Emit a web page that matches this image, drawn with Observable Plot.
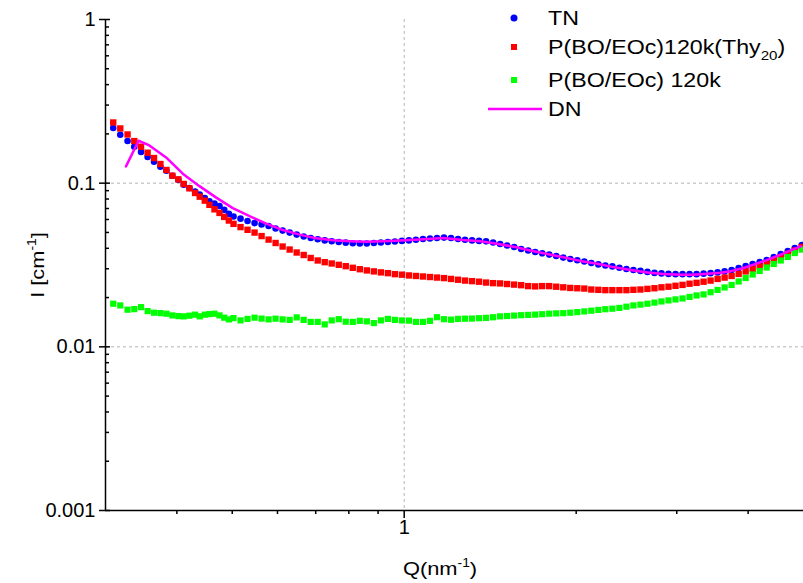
<!DOCTYPE html>
<html><head><meta charset="utf-8">
<script src="https://cdn.jsdelivr.net/npm/d3@7"></script>
<script src="https://cdn.jsdelivr.net/npm/@observablehq/plot@0.6"></script>
<style>
body{margin:0;background:#fff;font-family:"Liberation Sans",Arial,sans-serif;}
#wrap{position:relative;width:803px;height:583px;overflow:hidden;background:#fff;}
.title{position:absolute;font-size:19px;color:#000;white-space:nowrap;line-height:1;}
.title sup{font-size:12px;vertical-align:0;position:relative;top:-8px;}
.leg{position:absolute;left:548px;font-size:20px;line-height:20px;white-space:nowrap;color:#000;transform:scaleX(1.16);transform-origin:0 50%;}
.leg sub{font-size:13px;vertical-align:0;position:relative;top:6px;}
#legsym{position:absolute;left:0;top:0;}
</style></head><body><div id="wrap"></div>
<script>
// Q values (nm^-1) of the measured points
const qData = [0.3095,0.3184,0.3279,0.3369,0.3462,0.3555,0.3648,0.3743,0.3835,0.3928,0.4024,0.4112,0.4207,0.4305,0.4386,0.4476,0.4561,0.4655,0.4750,0.4841,0.4932,0.5026,
0.5170,0.5318,0.5471,0.5628,0.5789,0.5955,0.6126,0.6302,0.6483,0.6669,0.6860,0.7057,0.7259,0.7467,0.7681,0.7901,0.8128,0.8361,0.8601,0.8848,0.9102,0.9363,0.9631,0.9907,1.0191,1.0484,1.0785,1.1094,1.1412,1.1739,1.2076,1.2422,1.2778,1.3145,1.3522,1.3910,1.4309,1.4719,1.5141,1.5576,1.6023,1.6482,1.6955,1.7441,1.7941,1.8456,1.8985,1.9530,2.0090,2.0666,2.1259,2.1869,2.2496,2.3141,2.3805,2.4488,2.5190,2.5913,2.6656,2.7421,2.8207,2.9016,2.9849,3.0705,3.1586,3.2492,3.3424,3.4382,3.5368,3.6383,3.7426,3.8500,3.9604,4.0740,4.1909,4.3111,4.4348,4.5620,4.6929,4.8275,4.9659];
// TN (blue circles)
const tnI = [0.2171,0.1975,0.1808,0.1670,0.1550,0.1445,0.1352,0.1261,0.1192,0.1111,0.1050,0.0979,0.0935,0.0888,0.0851,0.0812,0.0774,0.0750,0.0726,0.0687,0.0649,0.0625,
0.0607,0.0587,0.0570,0.0559,0.0547,0.0529,0.0513,0.0499,0.0485,0.0472,
0.0462,0.0454,0.0447,0.0442,0.0437,0.0433,0.0429,0.0428,0.0428,0.0431,
0.0434,0.0437,0.0440,0.0444,0.0447,0.0451,0.0456,0.0459,0.0462,0.0465,
0.0462,0.0456,0.0451,0.0447,0.0444,0.0441,0.0434,0.0425,0.0416,0.0407,
0.0396,0.0388,0.0380,0.0373,0.0366,0.0359,0.0351,0.0344,0.0338,0.0332,
0.0325,0.0319,0.0314,0.0310,0.0304,0.0299,0.0295,0.0291,0.0287,0.0283,
0.0281,0.0279,0.0278,0.0278,0.0278,0.0278,0.0280,0.0282,0.0285,0.0289,
0.0295,0.0303,0.0312,0.0321,0.0330,0.0339,0.0354,0.0369,0.0385,0.0402,0.0419];
// P(BO/EOc)120k(Thy20) (red squares)
const thyI = [0.2349,0.2159,0.1984,0.1808,0.1670,0.1535,0.1424,0.1309,0.1204,0.1111,0.1055,0.0989,0.0930,0.0871,0.0827,0.0782,0.0737,0.0692,0.0658,0.0622,0.0591,0.0564,
0.0539,0.0519,0.0499,0.0475,0.0452,0.0431,0.0410,0.0393,0.0377,0.0364,
0.0349,0.0337,0.0329,0.0323,0.0317,0.0311,0.0304,0.0298,0.0293,0.0289,
0.0285,0.0282,0.0278,0.0276,0.0273,0.0271,0.0269,0.0267,0.0265,0.0263,
0.0260,0.0257,0.0254,0.0252,0.0250,0.0247,0.0245,0.0244,0.0242,0.0240,
0.0238,0.0235,0.0234,0.0235,0.0235,0.0233,0.0231,0.0229,0.0228,0.0227,
0.0224,0.0223,0.0222,0.0222,0.0222,0.0222,0.0223,0.0224,0.0226,0.0228,
0.0231,0.0233,0.0236,0.0239,0.0243,0.0246,0.0250,0.0254,0.0260,0.0265,
0.0271,0.0279,0.0289,0.0299,0.0310,0.0322,0.0337,0.0353,0.0370,0.0388,0.0407];
// P(BO/EOc) 120k (green squares)
const plainI = [0.01834,0.01791,0.01686,0.01700,0.01748,0.01653,0.01616,0.01607,0.01594,0.01556,0.01541,0.01535,0.01550,0.01572,0.01535,0.01572,0.01585,0.01594,0.01556,0.01507,0.01471,0.01498,
0.01450,0.01481,0.01507,0.01488,0.01471,0.01486,0.01471,0.01461,0.01513,0.01461,
0.01420,0.01420,0.01371,0.01450,0.01475,0.01424,0.01420,0.01441,0.01431,0.01397,
0.01450,0.01481,0.01461,0.01450,0.01446,0.01420,0.01420,0.01441,0.01517,0.01475,
0.01465,0.01481,0.01486,0.01488,0.01496,0.01503,0.01517,0.01535,0.01543,0.01552,
0.01561,0.01567,0.01574,0.01583,0.01594,0.01601,0.01606,0.01616,0.01630,0.01646,
0.01663,0.01681,0.01698,0.01710,0.01729,0.01759,0.01791,0.01811,0.01834,0.01863,
0.01894,0.01921,0.01948,0.01975,0.02018,0.02061,0.02090,0.02156,0.02226,0.02306,
0.02388,0.02508,0.02634,0.02767,0.02907,0.03053,0.03208,0.03369,0.03539,0.03742,0.03930];
// DN (magenta line)
const qDN = [0.3258,0.3428,0.3580,0.3830,0.4096,0.4381,0.4688,0.5012,0.5362,0.5735,0.6134,0.6561,0.7021,0.7506,0.8029,0.8592,0.9187,0.9828,1.0655,1.1691,1.2675,1.3578,1.4543,1.5643,1.6618,1.7797,1.8981,2.0337,2.1779,2.3232,2.4888,2.6662,2.8443,3.0462,3.2103,3.3969,3.5799,3.7275,3.9130,4.0907,4.3111,4.5612,4.7491,4.9453];
const dnI = [0.1266,0.1816,0.1700,0.1437,0.1143,0.0959,0.0816,0.0704,0.0629,0.0566,0.0517,0.0485,0.0460,0.0448,0.0442,0.0438,0.0442,0.0446,0.0452,0.0462,0.0449,0.0441,0.0426,0.0407,0.0388,0.0369,0.0353,0.0335,0.0322,0.0307,0.0295,0.0285,0.0279,0.0276,0.0276,0.0280,0.0284,0.0290,0.0302,0.0318,0.0339,0.0366,0.0388,0.0411];
// ticks
const xDomain = [0.3, 5];
const yDomain = [0.001, 1];
const xMajorTicks = [1];
const xMinorTicks = [0.4,0.5,0.6,0.7,0.8,0.9,2,3,4];
const yMajorTicks = [0.001,0.01,0.1,1];
const yMinorTicks = [0.002,0.003,0.004,0.005,0.006,0.007,0.008,0.009,0.02,0.03,0.04,0.05,0.06,0.07,0.08,0.09,0.2,0.3,0.4,0.5,0.6,0.7,0.8,0.9];
const gridX = [1];
const gridY = [0.01, 0.1];
const seriesNames = ["TN", "P(BO/EOc)120k(Thy<sub>20</sub>)", "P(BO/EOc) 120k", "DN"];
const colors = ["#0000ff", "#ff0000", "#00ff00", "#ff00ff"];

const rows = qData.map((q, i) => ({q, tn: tnI[i], thy: thyI[i], plain: plainI[i]}));
const dnRows = qDN.map((q, i) => ({q, I: dnI[i]}));

const chart = Plot.plot({
  width: 803, height: 583,
  marginLeft: 105, marginRight: 0, marginTop: 19, marginBottom: 73,
  x: {type: "log", domain: xDomain},
  y: {type: "log", domain: yDomain},
  style: {fontFamily: "'Liberation Sans', Arial, sans-serif", fontSize: "20px", color: "#000", background: "#fff", overflow: "visible"},
  marks: [
    Plot.ruleX(gridX, {stroke: "#b4b4b4", strokeDasharray: "3,3"}),
    Plot.ruleY(gridY, {stroke: "#b4b4b4", strokeDasharray: "3,3"}),
    Plot.dot(rows, {x: "q", y: "tn", r: 3.3, fill: colors[0], stroke: null}),
    Plot.dot(rows, {x: "q", y: "thy", r: 3.6, symbol: "square", fill: colors[1], stroke: null}),
    Plot.dot(rows, {x: "q", y: "plain", r: 3.5, symbol: "square", fill: colors[2], stroke: null}),
    Plot.line(dnRows, {x: "q", y: "I", stroke: colors[3], strokeWidth: 2.5}),
    Plot.ruleX([xDomain[0]], {stroke: "#000", strokeWidth: 1.5}),
    Plot.ruleY([yDomain[0]], {stroke: "#000", strokeWidth: 1.5}),
    Plot.axisX({ticks: xMajorTicks, tickSize: 8, tickPadding: 1, tickFormat: d => String(d), label: null, fontSize: 20, strokeWidth: 1.5}),
    Plot.axisX({ticks: xMinorTicks, tickSize: 4, text: null, label: null, strokeWidth: 1.5}),
    Plot.axisY({ticks: yMajorTicks, tickSize: 6, tickPadding: 4, tickFormat: d => String(d), label: null, fontSize: 20, strokeWidth: 1.5}),
    Plot.axisY({ticks: yMajorTicks, tickSize: 5, dx: 5, text: null, label: null, strokeWidth: 1.5}),
    Plot.axisY({ticks: yMinorTicks, tickSize: 4, dx: 4, text: null, label: null, strokeWidth: 1.5})
  ]
});
const wrap = document.getElementById("wrap");
wrap.appendChild(chart);

// axis titles
const yt = document.createElement("div");
yt.className = "title";
yt.innerHTML = "I [cm<sup>-1</sup>]";
yt.style.left = "37px"; yt.style.top = "265px";
yt.style.transform = "translate(-50%,-50%) rotate(-90deg) scaleX(1.15)";
wrap.appendChild(yt);
const xt = document.createElement("div");
xt.className = "title";
xt.innerHTML = "Q(nm<sup>-1</sup>)";
xt.style.left = "440px"; xt.style.top = "568px";
xt.style.transform = "translate(-50%,-50%) scaleX(1.15)";
wrap.appendChild(xt);

// legend
const legTops = [18, 47, 80, 109];
const ns = "http://www.w3.org/2000/svg";
const sym = document.createElementNS(ns, "svg");
sym.setAttribute("id", "legsym"); sym.setAttribute("width", 803); sym.setAttribute("height", 583);
const c = document.createElementNS(ns, "circle");
c.setAttribute("cx", 514); c.setAttribute("cy", legTops[0]); c.setAttribute("r", 3.5); c.setAttribute("fill", colors[0]);
sym.appendChild(c);
[1, 2].forEach(k => {
  const r = document.createElementNS(ns, "rect");
  r.setAttribute("x", 511); r.setAttribute("y", legTops[k] - 3); r.setAttribute("width", 6); r.setAttribute("height", 6); r.setAttribute("fill", colors[k]);
  sym.appendChild(r);
});
const ln = document.createElementNS(ns, "line");
ln.setAttribute("x1", 488); ln.setAttribute("x2", 542); ln.setAttribute("y1", legTops[3]); ln.setAttribute("y2", legTops[3]);
ln.setAttribute("stroke", colors[3]); ln.setAttribute("stroke-width", 2.5);
sym.appendChild(ln);
wrap.appendChild(sym);
seriesNames.forEach((name, k) => {
  const d = document.createElement("div");
  d.className = "leg";
  d.innerHTML = name;
  d.style.top = (legTops[k] - 10) + "px";
  wrap.appendChild(d);
});
</script>
</body></html>
